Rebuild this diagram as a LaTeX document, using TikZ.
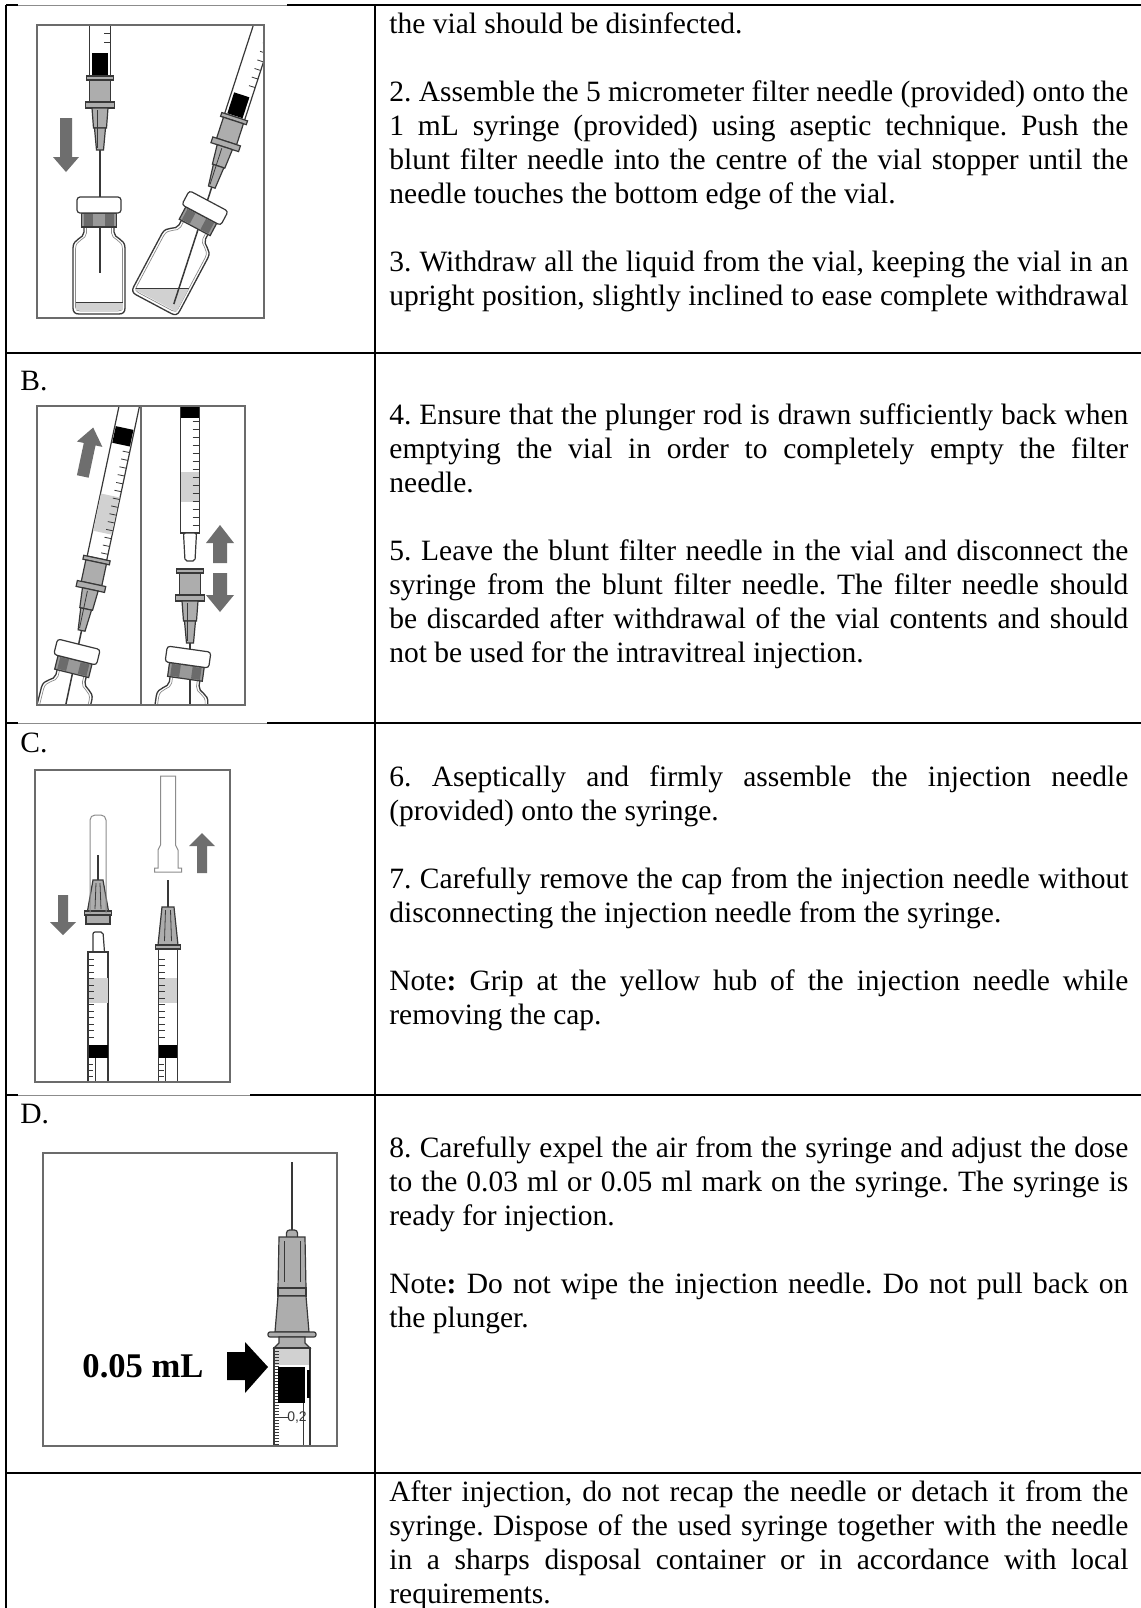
\documentclass[tikz,border=0pt]{standalone}
\usepackage{fontspec}
\setmainfont{Liberation Serif}
\setsansfont{Liberation Sans}
\frenchspacing

\newlength{\du}
\setlength{\du}{0.5pt}

\definecolor{inkgrey}{rgb}{0.220000, 0.220000, 0.220000}
\definecolor{hubgrey}{rgb}{0.680000, 0.680000, 0.680000}
\definecolor{crimpgrey}{rgb}{0.600000, 0.600000, 0.600000}
\definecolor{blockgrey}{rgb}{0.420000, 0.420000, 0.420000}
\definecolor{arrowgrey}{rgb}{0.430000, 0.430000, 0.430000}
\definecolor{framegrey}{rgb}{0.420000, 0.420000, 0.420000}
\definecolor{liquidgrey}{rgb}{0.820000, 0.820000, 0.820000}
\definecolor{capgrey}{rgb}{0.550000, 0.550000, 0.550000}

\newcommand{\celltextfont}{\fontsize{14.75pt}{17pt}\selectfont}
\newcommand{\dosefont}{\fontsize{17.3pt}{20pt}\selectfont\bfseries}
\newcommand{\gradfont}{\fontsize{7pt}{8pt}\selectfont\sffamily}
\newcommand{\justline}[1]{\makebox[739\du][s]{#1}}

\tikzset{
  tablerule/.style={draw=black, line width=2\du},
  celltext/.style={anchor=base west, inner sep=0pt, font=\celltextfont},
  figframe/.style={draw=framegrey, line width=1.4\du},
  syrpart/.style={draw=inkgrey, line width=1.2\du, fill=white},
  hubpart/.style={syrpart, fill=hubgrey},
  needleline/.style={draw=inkgrey, line width=1.5\du},
  thinline/.style={draw=inkgrey, line width=0.8\du},
  glass/.style={draw=inkgrey, line width=1.3\du, fill=white},
  glassin/.style={draw=capgrey, line width=0.7\du},
  capline/.style={draw=capgrey, line width=1\du, fill=white},
  stopper/.style={fill=black},
  greyarrow/.style={fill=arrowgrey},
}

% filter needle hub, origin at the top of the upper flange
\newcommand{\filterhub}[1]{%
  \draw[needleline] (0,70) -- (0,#1);
  \draw[hubpart] (-13.5,0) rectangle (13.5,4);
  \draw[hubpart] (-10.5,4) rectangle (10.5,26);
  \draw[hubpart] (-14.5,26) rectangle (14.5,32);
  \draw[hubpart] (-8,32) -- (8,32) -- (6.5,52) -- (-6.5,52) -- cycle;
  \draw[hubpart] (-5.5,52) -- (5.5,52) -- (3.5,74) -- (-3.5,74) -- cycle;
  \draw[thinline] (-2.5,34) -- (-2.5,72);
}
% vial, origin at the centre of the cap
\newcommand{\vialbody}{%
  \draw[glass] (-15,20) -- (-15,27) .. controls (-15,34) and (-26,33) .. (-26,43) -- (-26,103) .. controls (-26,107) and (-24,109) .. (-20,109) -- (20,109) .. controls (24,109) and (26,107) .. (26,103) -- (26,43) .. controls (26,33) and (15,34) .. (15,27) -- (15,20);
  \draw[glassin] (-12.5,22) -- (-12.5,28) .. controls (-12.5,35) and (-23.5,34) .. (-23.5,44) -- (-23.5,102) .. controls (-23.5,105) and (-22,106) .. (-19,106) -- (19,106) .. controls (22,106) and (23.5,105) .. (23.5,102) -- (23.5,44) .. controls (23.5,34) and (12.5,35) .. (12.5,28) -- (12.5,22);
}
\newcommand{\vialcap}{%
  \draw[hubpart, fill=crimpgrey] (-17.5,8) rectangle (17.5,22);
  \fill[blockgrey] (-15,9) rectangle (-6,21);
  \fill[blockgrey] (6,9) rectangle (15,21);
  \draw[syrpart, rounded corners=1.5pt] (-22,-8) rectangle (22,8);
}

\begin{document}
\begin{tikzpicture}
\pgftransformxscale{1.000000}
\pgftransformyscale{-1.000000}
\fill[white] (0\du,0\du) rectangle (1141\du,1608\du);
\useasboundingbox (0\du,0\du) rectangle (1141\du,1608\du);

% table rules
\draw[tablerule] (6\du,5\du) -- (1141\du,5\du);
\draw[tablerule] (6\du,5\du) -- (6\du,1608\du);
\draw[tablerule] (375\du,5\du) -- (375\du,1608\du);
\draw[tablerule] (6\du,353\du) -- (1141\du,353\du);
\draw[tablerule] (6\du,723\du) -- (1141\du,723\du);
\draw[tablerule] (6\du,1095\du) -- (1141\du,1095\du);
\draw[tablerule] (6\du,1473\du) -- (1141\du,1473\du);
% picture edges lying over the rules
\draw[white, line width=2.4\du] (18\du,5\du) -- (287\du,5\du);
\draw[capgrey, line width=0.9\du] (18\du,5\du) -- (287\du,5\du);
\draw[white, line width=2.4\du] (18\du,723\du) -- (267\du,723\du);
\draw[capgrey, line width=0.9\du] (18\du,723\du) -- (267\du,723\du);
\draw[white, line width=2.4\du] (18\du,1095\du) -- (250\du,1095\du);
\draw[capgrey, line width=0.9\du] (18\du,1095\du) -- (250\du,1095\du);

% picture A
\begin{scope}[x=\du, y=\du]
  \begin{scope}
    \clip (37,25) rectangle (264,318);
    \begin{scope}[shift={(99,205)}]
      \vialbody
      \fill[liquidgrey] (-23.5,97) rectangle (23.5,105);
      \draw[thinline] (-23.5,97) -- (23.5,97);
    \end{scope}
    \begin{scope}[shift={(100,76)}]
      \draw[syrpart] (-10.5,-80) rectangle (10.5,0);
      \fill[stopper] (-8,-23) rectangle (8,-1);
      \foreach \t in {-34,-43,...,-79} \draw[thinline] (4,\t) -- (10.5,\t);
      \filterhub{197}
    \end{scope}
    \begin{scope}[shift={(99,205)}]
      \vialcap
    \end{scope}
    \fill[greyarrow] (60,118) -- (72,118) -- (72,157) -- (79,157) -- (66,172) -- (53,157) -- (60,157) -- cycle;
    % tilted vial
    \begin{scope}[shift={(205,208)}, rotate=28]
      \vialbody
    \end{scope}
    \begin{scope}
      \clip[shift={(205,208)}, rotate=28] (-23.5,44) rectangle (23.5,105);
      \fill[liquidgrey] (120,288) rectangle (260,330);
      \draw[thinline] (120,288) -- (260,288);
    \end{scope}
    \begin{scope}[shift={(205,208)}, rotate=18]
      \begin{scope}[shift={(0,-96)}]
        \draw[syrpart] (-10.5,-200) rectangle (10.5,0);
        \fill[stopper] (-8,-23) rectangle (8,-1);
        \foreach \t in {-34,-43,...,-160} \draw[thinline] (4,\t) -- (10.5,\t);
        \filterhub{197}
      \end{scope}
    \end{scope}
    \begin{scope}[shift={(205,208)}, rotate=28]
      \vialcap
    \end{scope}
  \end{scope}
  \draw[figframe] (37,25) rectangle (264,318);
\end{scope}

% picture B
\begin{scope}[x=\du, y=\du]
  \begin{scope}
    \clip (37,406) rectangle (141,705);
    \begin{scope}[shift={(77,652)}, rotate=14]
      \vialbody
    \end{scope}
    \begin{scope}[shift={(77,652)}, rotate=12]
      \begin{scope}[shift={(0,-96)}]
        \draw[syrpart] (-10,-260) rectangle (10,0);
        \fill[liquidgrey] (-9.5,-64) rectangle (9.5,-26);
        \fill[stopper] (-9,-133) rectangle (9,-116);
        \foreach \t in {-6,-14,...,-110} \draw[thinline] (3,\t) -- (10,\t);
        \filterhub{150}
      \end{scope}
    \end{scope}
    \begin{scope}[shift={(77,652)}, rotate=14]
      \vialcap
    \end{scope}
    \fill[greyarrow, shift={(88,452)}, rotate=12] (-6,25) -- (6,25) -- (6,-8) -- (13,-8) -- (0,-25) -- (-13,-8) -- (-6,-8) -- cycle;
  \end{scope}
  \begin{scope}
    \clip (141,406) rectangle (245,705);
    \begin{scope}[shift={(188,657)}, rotate=8]
      \vialbody
    \end{scope}
    \begin{scope}[shift={(190,569)}]
      \filterhub{150}
    \end{scope}
    \begin{scope}[shift={(188,657)}, rotate=8]
      \vialcap
    \end{scope}
    \begin{scope}[shift={(190,533)}]
      \draw[syrpart] (-9.5,-150) rectangle (9.5,0);
      \fill[liquidgrey] (-9,-61) rectangle (9,-31);
      \fill[stopper] (-9,-150) rectangle (9,-115);
      \foreach \t in {-8,-16,...,-112} \draw[thinline] (2.5,\t) -- (9.5,\t);
      \draw[syrpart, rounded corners=1pt] (-6.5,0) -- (6.5,0) -- (5,28) -- (-5,28) -- cycle;
    \end{scope}
    \fill[greyarrow] (213,563) -- (227,563) -- (227,543) -- (234,543) -- (220,525) -- (206,543) -- (213,543) -- cycle;
    \fill[greyarrow] (213,573) -- (227,573) -- (227,595) -- (234,595) -- (220,612) -- (206,595) -- (213,595) -- cycle;
  \end{scope}
  \draw[figframe] (37,406) rectangle (245,705);
  \draw[figframe] (141,406) -- (141,705);
\end{scope}

% picture C
\begin{scope}[x=\du, y=\du]
  \begin{scope}
    \clip (35,770) rectangle (230,1082);
    % capped needle
    \begin{scope}[shift={(98,0)}]
      \draw[needleline] (0,855) -- (0,882);
      \draw[hubpart] (-5,880) -- (5,880) -- (10.5,911) -- (-10.5,911) -- cycle;
      \draw[thinline] (-2,883) -- (-3,909);
      \draw[thinline] (2,883) -- (3,909);
      \draw[hubpart] (-13.5,911) rectangle (13.5,915);
      \draw[hubpart] (-12,915) rectangle (12,924);
      \draw[inkgrey, line width=1.6\du] (-12,924) -- (12,924);
      \draw[capgrey, line width=1\du, rounded corners=2.5pt] (-8,913) -- (-8,815) -- (8,815) -- (8,913);
      \draw[syrpart, rounded corners=1pt] (-5,952) -- (-5,932) -- (5,932) -- (6.5,952);
      \draw[syrpart] (-10,952) rectangle (10,1090);
      \fill[liquidgrey] (-9.5,978) rectangle (9.5,1003);
      \foreach \t in {959,965.5,...,1041} \draw[thinline] (-10,\t) -- (-4,\t);
      \fill[stopper] (-9.5,1045) rectangle (9.5,1058);
      \draw[thinline] (-3,1058) -- (-3,1090);
      \foreach \t in {1064,1070,...,1082} \draw[thinline] (-10,\t) -- (-5,\t);
    \end{scope}
    % needle with the cap taken off
    \begin{scope}[shift={(168,0)}]
      \draw[capline] (-13.5,872) -- (-13.5,868) -- (-10,868) -- (-10,850) -- (-7.5,845) -- (-7.5,776) -- (7.5,776) -- (7.5,845) -- (10,850) -- (10,868) -- (13.5,868) -- (13.5,872) -- cycle;
      \draw[needleline] (0,880) -- (0,910);
      \draw[hubpart] (-6,907) -- (6,907) -- (10,945) -- (-10,945) -- cycle;
      \draw[thinline] (-2.5,910) -- (-3.5,941);
      \draw[thinline] (2.5,910) -- (3.5,941);
      \draw[hubpart] (-12.5,945) rectangle (12.5,949);
      \draw[syrpart] (-9.5,949) rectangle (9.5,1090);
      \fill[liquidgrey] (-9,978) rectangle (9,1003);
      \foreach \t in {959,965.5,...,1041} \draw[thinline] (-9.5,\t) -- (-3.5,\t);
      \fill[stopper] (-9,1045) rectangle (9,1058);
      \draw[thinline] (-3,1058) -- (-3,1090);
      \foreach \t in {1064,1070,...,1082} \draw[thinline] (-9.5,\t) -- (-4.5,\t);
    \end{scope}
    \fill[greyarrow] (58,895) -- (68,895) -- (68,922) -- (76,922) -- (63,935) -- (50,922) -- (58,922) -- cycle;
    \fill[greyarrow] (197,873) -- (207,873) -- (207,846) -- (215,846) -- (202,833) -- (189,846) -- (197,846) -- cycle;
  \end{scope}
  \draw[figframe] (35,770) rectangle (230,1082);
\end{scope}

% picture D
\begin{scope}[x=\du, y=\du]
  \begin{scope}
    \clip (43,1153) rectangle (337,1446);
    \draw[needleline] (292,1162) -- (292,1233);
    \draw[hubpart, rounded corners=1.5pt] (286.5,1240) -- (286.5,1230) -- (297.5,1230) -- (297.5,1240) -- cycle;
    \draw[hubpart] (279,1237) -- (305,1237) -- (306,1288) -- (278,1288) -- cycle;
    \draw[thinline] (284,1241) -- (284,1282);
    \draw[thinline] (300,1241) -- (300,1282);
    \draw[hubpart] (278,1288) rectangle (306,1296);
    \draw[hubpart] (278,1296) -- (306,1296) -- (309,1332) -- (275,1332) -- cycle;
    \draw[hubpart, rounded corners=1pt] (268,1332) rectangle (316,1337);
    \draw[hubpart] (279,1337) -- (305,1337) -- (305,1343) -- (310,1348) -- (274,1348) -- (279,1343) -- cycle;
    \draw[syrpart] (274,1348) rectangle (310,1452);
    \fill[liquidgrey] (275,1349) rectangle (309,1365);
    \foreach \t in {1351,1354,...,1446} \draw[thinline, line width=0.5\du] (274,\t) -- (279,\t);
    \fill[stopper] (278,1367) rectangle (305,1403);
    \fill[stopper] (306.5,1370) rectangle (309.5,1398);
    \draw[thinline] (279,1417) -- (288,1417);
    \draw[thinline] (303,1403) -- (303,1452);
    \node[inner sep=0pt, font=\gradfont, text=inkgrey] (grad) at (297,1417) {0,2};
    \fill[black] (227,1352) -- (245,1352) -- (245,1342) -- (268,1367) -- (245,1393) -- (245,1380) -- (227,1380) -- cycle;
    \node[anchor=base, inner sep=0pt, font=\dosefont] (dose) at (143,1377) {0.05 mL};
  \end{scope}
  \draw[framegrey, line width=2\du] (43,1153) rectangle (337,1446);
\end{scope}

% row labels
\node[celltext] (labB) at (20\du,390\du) {B.};
\node[celltext] (labC) at (20\du,752\du) {C.};
\node[celltext] (labD) at (20\du,1123\du) {D.};

% text of row A
\node[celltext] (a1) at (389\du,33\du) {the vial should be disinfected.};
\node[celltext] (a2) at (389\du,101\du) {\justline{2. Assemble the 5 micrometer filter needle (provided) onto the}};
\node[celltext] (a3) at (389\du,135\du) {\justline{1 mL syringe (provided) using aseptic technique. Push the}};
\node[celltext] (a4) at (389\du,169\du) {\justline{blunt filter needle into the centre of the vial stopper until the}};
\node[celltext] (a5) at (389\du,203\du) {needle touches the bottom edge of the vial.};
\node[celltext] (a6) at (389\du,271\du) {\justline{3. Withdraw all the liquid from the vial, keeping the vial in an}};
\node[celltext] (a7) at (389\du,305\du) {\justline{upright position, slightly inclined to ease complete withdrawal}};

% text of row B
\node[celltext] (b1) at (389\du,424\du) {\justline{4. Ensure that the plunger rod is drawn sufficiently back when}};
\node[celltext] (b2) at (389\du,458\du) {\justline{emptying the vial in order to completely empty the filter}};
\node[celltext] (b3) at (389\du,492\du) {needle.};
\node[celltext] (b4) at (389\du,560\du) {\justline{5. Leave the blunt filter needle in the vial and disconnect the}};
\node[celltext] (b5) at (389\du,594\du) {\justline{syringe from the blunt filter needle. The filter needle should}};
\node[celltext] (b6) at (389\du,628\du) {\justline{be discarded after withdrawal of the vial contents and should}};
\node[celltext] (b7) at (389\du,662\du) {not be used for the intravitreal injection.};

% text of row C
\node[celltext] (c1) at (389\du,786\du) {\justline{6. Aseptically and firmly assemble the injection needle}};
\node[celltext] (c2) at (389\du,820\du) {(provided) onto the syringe.};
\node[celltext] (c3) at (389\du,888\du) {\justline{7. Carefully remove the cap from the injection needle without}};
\node[celltext] (c4) at (389\du,922\du) {disconnecting the injection needle from the syringe.};
\node[celltext] (c5) at (389\du,990\du) {\justline{Note\textbf{:} Grip at the yellow hub of the injection needle while}};
\node[celltext] (c6) at (389\du,1024\du) {removing the cap.};

% text of row D
\node[celltext] (d1) at (389\du,1157\du) {\justline{8. Carefully expel the air from the syringe and adjust the dose}};
\node[celltext] (d2) at (389\du,1191\du) {\justline{to the 0.03 ml or 0.05 ml mark on the syringe. The syringe is}};
\node[celltext] (d3) at (389\du,1225\du) {ready for injection.};
\node[celltext] (d4) at (389\du,1293\du) {\justline{Note\textbf{:} Do not wipe the injection needle. Do not pull back on}};
\node[celltext] (d5) at (389\du,1327\du) {the plunger.};

% text of the last row
\node[celltext] (e1) at (389\du,1501\du) {\justline{After injection, do not recap the needle or detach it from the}};
\node[celltext] (e2) at (389\du,1535\du) {\justline{syringe. Dispose of the used syringe together with the needle}};
\node[celltext] (e3) at (389\du,1569\du) {\justline{in a sharps disposal container or in accordance with local}};
\node[celltext] (e4) at (389\du,1603\du) {requirements.};
\end{tikzpicture}
\end{document}
